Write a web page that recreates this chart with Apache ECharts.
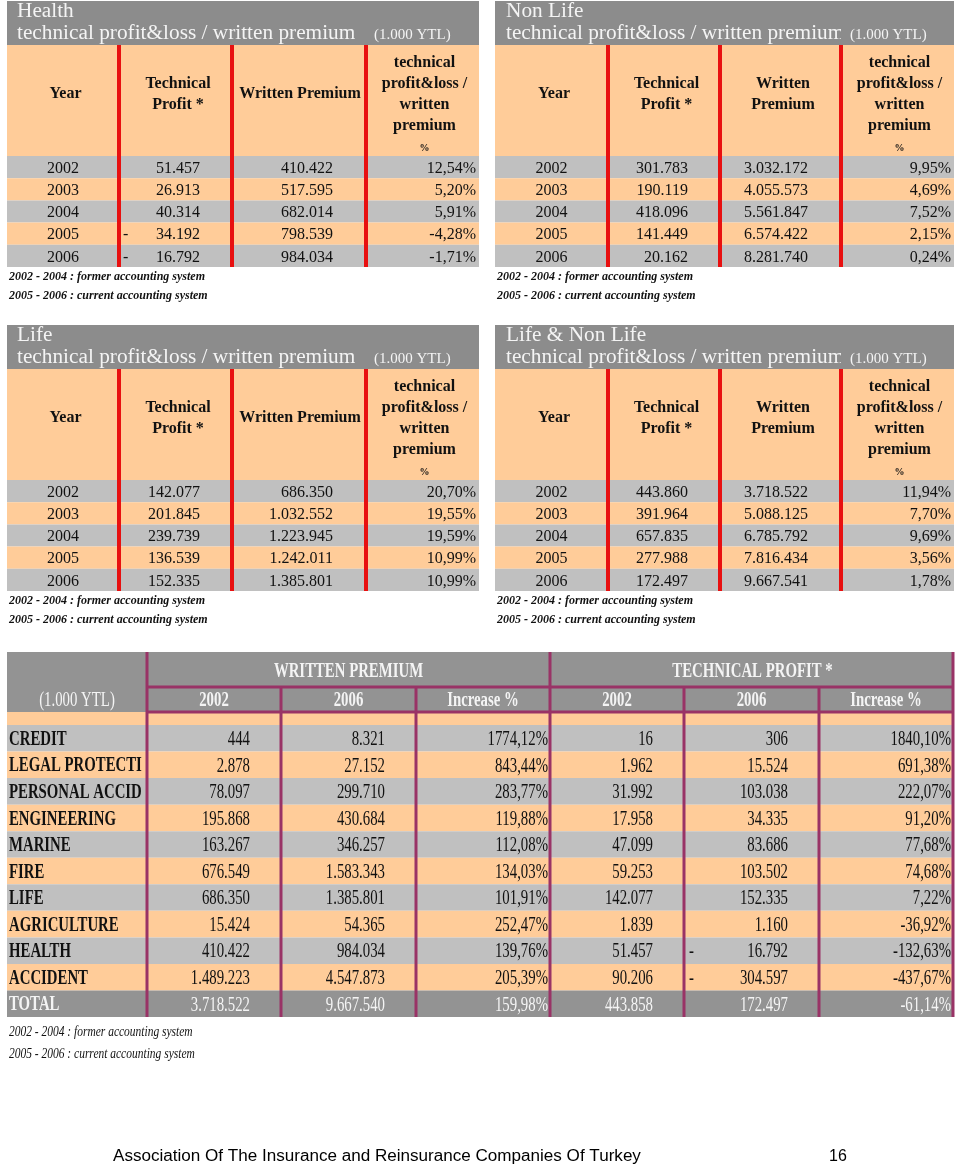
<!DOCTYPE html>
<html><head><meta charset="utf-8">
<script src="https://cdn.jsdelivr.net/npm/echarts@6/dist/echarts.min.js"></script>
<style>html,body{margin:0;padding:0;background:#fff}#c{width:960px;height:1164px}</style>
</head><body><div id="c"></div>
<script>
// ---------------- DATA ----------------
const years = ['2002', '2003', '2004', '2005', '2006'];

const healthTP  = [51457, 26913, 40314, -34192, -16792];
const healthWP  = [410422, 517595, 682014, 798539, 984034];
const healthPct = [12.54, 5.20, 5.91, -4.28, -1.71];

const nonLifeTP  = [301783, 190119, 418096, 141449, 20162];
const nonLifeWP  = [3032172, 4055573, 5561847, 6574422, 8281740];
const nonLifePct = [9.95, 4.69, 7.52, 2.15, 0.24];

const lifeTP  = [142077, 201845, 239739, 136539, 152335];
const lifeWP  = [686350, 1032552, 1223945, 1242011, 1385801];
const lifePct = [20.70, 19.55, 19.59, 10.99, 10.99];

const allTP  = [443860, 391964, 657835, 277988, 172497];
const allWP  = [3718522, 5088125, 6785792, 7816434, 9667541];
const allPct = [11.94, 7.70, 9.69, 3.56, 1.78];

const branches = ['CREDIT', 'LEGAL PROTECTION', 'PERSONAL ACCIDENT', 'ENGINEERING', 'MARINE', 'FIRE', 'LIFE', 'AGRICULTURE', 'HEALTH', 'ACCIDENT', 'TOTAL'];
const wp2002 = [444, 2878, 78097, 195868, 163267, 676549, 686350, 15424, 410422, 1489223, 3718522];
const wp2006 = [8321, 27152, 299710, 430684, 346257, 1583343, 1385801, 54365, 984034, 4547873, 9667540];
const wpIncrease = [1774.12, 843.44, 283.77, 119.88, 112.08, 134.03, 101.91, 252.47, 139.76, 205.39, 159.98];
const tp2002 = [16, 1962, 31992, 17958, 47099, 59253, 142077, 1839, 51457, 90206, 443858];
const tp2006 = [306, 15524, 103038, 34335, 83686, 103502, 152335, 1160, -16792, -304597, 172497];
const tpIncrease = [1840.10, 691.38, 222.07, 91.20, 77.68, 74.68, 7.22, -36.92, -132.63, -437.67, -61.14];

const titleLine = 'technical profit&loss / written premium';
const unitLabel = '(1.000 YTL)';
const hdrYear = 'Year';
const hdrTP = ['Technical', 'Profit *'];
const hdrWP = ['Written Premium'];
const hdrWP2 = ['Written', 'Premium'];
const hdrRatio = ['technical', 'profit&loss /', 'written', 'premium'];
const hdrPct = '%';
const bigGroups = ['WRITTEN PREMIUM', 'TECHNICAL PROFIT *'];
const bigSub = ['2002', '2006', 'Increase %'];
const footnotes = ['2002 - 2004 : former accounting system', '2005 - 2006 : current accounting system'];
const footerText = 'Association Of The Insurance and Reinsurance Companies Of Turkey';
const pageNo = '16';

// ---------------- STYLE / LAYOUT ----------------
const GRAY = '#c0c0c0', ORANGE = '#ffcc99', BAR = '#8c8c8c', HEAD = '#939393',
      RED = '#e81010', PURPLE = '#993366', LIGHT = '#f4f4f4', INK = '#111111';
const SERIF = '"Liberation Serif","Times New Roman",serif';
const SANS = '"Liberation Sans",Arial,sans-serif';
const DY = 1.5;

function fmtInt(v) { return Math.abs(Math.round(v)).toString().replace(/\B(?=(\d{3})+(?!\d))/g, '.'); }
function fmtPct(v) { return (v < 0 ? '-' : '') + Math.abs(v).toFixed(2).replace('.', ',') + '%'; }

function txt(api, x, y, text, o) {
  const p = api.coord([x, y + DY]);
  const st = {
    x: 0, y: 0, text: text, fill: o.fill || INK,
    font: (o.style || 'normal') + ' ' + (o.weight || 'normal') + ' ' + o.size + 'px ' + (o.family || SERIF),
    align: o.align || 'left', verticalAlign: 'middle',
    textAlign: o.align || 'left', textVerticalAlign: 'middle'
  };
  if (o.width) { st.width = o.width; st.overflow = 'truncate'; st.ellipsis = ''; }
  return { type: 'text', x: p[0], y: p[1], scaleX: o.sx || 1, scaleY: o.sy || 1, silent: true, style: st };
}
function box(api, x1, y1, x2, y2, fill) {
  const a = api.coord([x1, y1]), b = api.coord([x2, y2]);
  return { type: 'rect', silent: true,
    shape: { x: Math.min(a[0], b[0]), y: Math.min(a[1], b[1]), width: Math.abs(b[0] - a[0]), height: Math.abs(b[1] - a[1]) },
    style: { fill: fill } };
}

const LEFT_EDGES = [7, 119, 232, 366, 479];
const RIGHT_EDGES = [495, 608, 720, 841, 954];
const smallTables = [
  { name: 'Health', edges: LEFT_EDGES, oy: 1, tx: 17, ux: 374, clip: 366, wp2: false, tp: healthTP, wp: healthWP, pct: healthPct },
  { name: 'Non Life', edges: RIGHT_EDGES, oy: 1, tx: 506, ux: 850, clip: 841, wp2: true, tp: nonLifeTP, wp: nonLifeWP, pct: nonLifePct },
  { name: 'Life', edges: LEFT_EDGES, oy: 325, tx: 17, ux: 374, clip: 366, wp2: false, tp: lifeTP, wp: lifeWP, pct: lifePct },
  { name: 'Life & Non Life', edges: RIGHT_EDGES, oy: 325, tx: 506, ux: 850, clip: 841, wp2: true, tp: allTP, wp: allWP, pct: allPct }
];

function renderSmall(t, api) {
  const e = t.edges, L = e[0], R = e[4], oy = t.oy, hy = oy + 44, ry = hy + 111, rh = 22.2, n = years.length;
  const c = [];
  const mid = k => (e[k] + e[k + 1]) / 2;
  c.push(box(api, L, oy, R, hy, BAR));
  c.push(box(api, L, hy, R, ry, ORANGE));
  years.forEach((y, i) => c.push(box(api, L, ry + i * rh, R, ry + (i + 1) * rh, i % 2 ? ORANGE : GRAY)));
  for (let k = 1; k < 4; k++) c.push(box(api, e[k] - 2, hy, e[k] + 2, ry + n * rh, RED));
  c.push(txt(api, t.tx, oy + 9, t.name, { size: 21.3, fill: LIGHT }));
  c.push(txt(api, t.tx, oy + 31, titleLine, { size: 21.3, fill: LIGHT }));
  // the unit cell hides the part of the title that overflows into it
  c.push(box(api, t.clip, oy + 18, R, hy, BAR));
  c.push(txt(api, t.ux, oy + 33, unitLabel, { size: 15, fill: LIGHT }));
  const hb = { size: 16, weight: 'bold', align: 'center' };
  c.push(txt(api, mid(0) + 2.5, hy + 47, hdrYear, hb));
  hdrTP.forEach((s, j) => c.push(txt(api, mid(1) + 2.5, hy + 37 + j * 21, s, hb)));
  if (t.wp2) hdrWP2.forEach((s, j) => c.push(txt(api, mid(2) + 2.5, hy + 37 + j * 21, s, hb)));
  else c.push(txt(api, mid(2) + 1, hy + 47, hdrWP[0], hb));
  hdrRatio.forEach((s, j) => c.push(txt(api, mid(3) + 2, hy + 16 + j * 21, s, hb)));
  c.push(txt(api, mid(3) + 2, hy + 102, hdrPct, { size: 10, weight: 'bold', align: 'center' }));
  years.forEach((y, i) => {
    const cy = ry + i * rh + rh / 2;
    const d = { size: 16 };
    c.push(txt(api, mid(0), cy, y, Object.assign({ align: 'center' }, d)));
    c.push(txt(api, e[2] - 32, cy, fmtInt(t.tp[i]), Object.assign({ align: 'right' }, d)));
    if (t.tp[i] < 0) c.push(txt(api, e[1] + 4, cy, '-', d));
    c.push(txt(api, e[3] - 33, cy, fmtInt(t.wp[i]), Object.assign({ align: 'right' }, d)));
    c.push(txt(api, e[4] - 3, cy, fmtPct(t.pct[i]), Object.assign({ align: 'right' }, d)));
  });
  footnotes.forEach((f, j) => c.push(txt(api, L + 2, ry + n * rh + 8 + j * 19, f, { size: 12, weight: 'bold', style: 'italic' })));
  return { type: 'group', children: c };
}

const BIG_EDGES = [7, 147, 281, 416, 550, 684, 819, 953];
function renderBig(api) {
  const e = BIG_EDGES, L = e[0], R = e[7], top = 652, h1 = 687, h2 = 712, sp = 725, rh = 26.55, n = branches.length;
  const bottom = sp + n * rh;
  const c = [];
  const SX = 0.74;
  c.push(box(api, L, top, R, h2, HEAD));
  c.push(box(api, L, h2, R, sp, ORANGE));
  branches.forEach((b, i) => c.push(box(api, L, sp + i * rh, R, sp + (i + 1) * rh, i === n - 1 ? HEAD : (i % 2 ? ORANGE : GRAY))));
  [1, 4, 7].forEach(k => c.push(box(api, e[k] - 1.5, top, e[k] + 1.5, bottom, PURPLE)));
  [2, 3, 5, 6].forEach(k => c.push(box(api, e[k] - 1.5, h1, e[k] + 1.5, bottom, PURPLE)));
  c.push(box(api, e[1], h1 - 1.5, R, h1 + 1.5, PURPLE));
  c.push(box(api, e[1], h2 - 1.5, R, h2 + 1.5, PURPLE));
  c.push(txt(api, 77, 699, unitLabel, { size: 20, fill: LIGHT, align: 'center', sx: SX }));
  c.push(txt(api, (e[1] + e[4]) / 2, 670, bigGroups[0], { size: 20, weight: 'bold', fill: LIGHT, align: 'center', sx: SX }));
  c.push(txt(api, (e[4] + e[7]) / 2 + 1, 670, bigGroups[1], { size: 20, weight: 'bold', fill: LIGHT, align: 'center', sx: SX }));
  for (let k = 0; k < 6; k++) {
    c.push(txt(api, (e[k + 1] + e[k + 2]) / 2, 699, bigSub[k % 3], { size: 20, weight: 'bold', fill: LIGHT, align: 'center', sx: SX }));
  }
  const cols = [wp2002, wp2006, wpIncrease, tp2002, tp2006, tpIncrease];
  branches.forEach((b, i) => {
    const cy = sp + i * rh + rh / 2;
    const fill = i === n - 1 ? LIGHT : INK;
    c.push(txt(api, 9, cy, b, { size: 20, weight: 'bold', fill: fill, sx: SX, width: (e[1] - 10) / SX }));
    cols.forEach((arr, j) => {
      const isPct = j % 3 === 2;
      const v = arr[i];
      const s = isPct ? fmtPct(v) : fmtInt(v);
      c.push(txt(api, e[j + 2] - (isPct ? 2 : 31), cy, s, { size: 20, fill: fill, align: 'right', sx: SX }));
      if (!isPct && v < 0) c.push(txt(api, e[j + 1] + 5, cy, '-', { size: 20, fill: fill, sx: SX }));
    });
  });
  footnotes.forEach((f, j) => c.push(txt(api, 9, 1031 + j * 22, f, { size: 14, style: 'italic', sx: 0.82 })));
  c.push(txt(api, 113, 1155, footerText, { size: 16, family: SANS, fill: '#000', sx: 1.067 }));
  c.push(txt(api, 838, 1155, pageNo, { size: 16, family: SANS, fill: '#000', align: 'center' }));
  return { type: 'group', children: c };
}

const chart = echarts.init(document.getElementById('c'), null, { renderer: 'canvas' });
chart.setOption({
  animation: false,
  backgroundColor: '#ffffff',
  grid: { left: 0, right: 0, top: 0, bottom: 0 },
  xAxis: { type: 'value', min: 0, max: 960, show: false },
  yAxis: { type: 'value', min: 0, max: 1164, inverse: true, show: false },
  series: smallTables.map(t => ({
    type: 'custom', clip: false, silent: true, data: [[0, 0]],
    renderItem: (p, api) => renderSmall(t, api)
  })).concat([{
    type: 'custom', clip: false, silent: true, data: [[0, 0]],
    renderItem: (p, api) => renderBig(api)
  }])
});
</script></body></html>
